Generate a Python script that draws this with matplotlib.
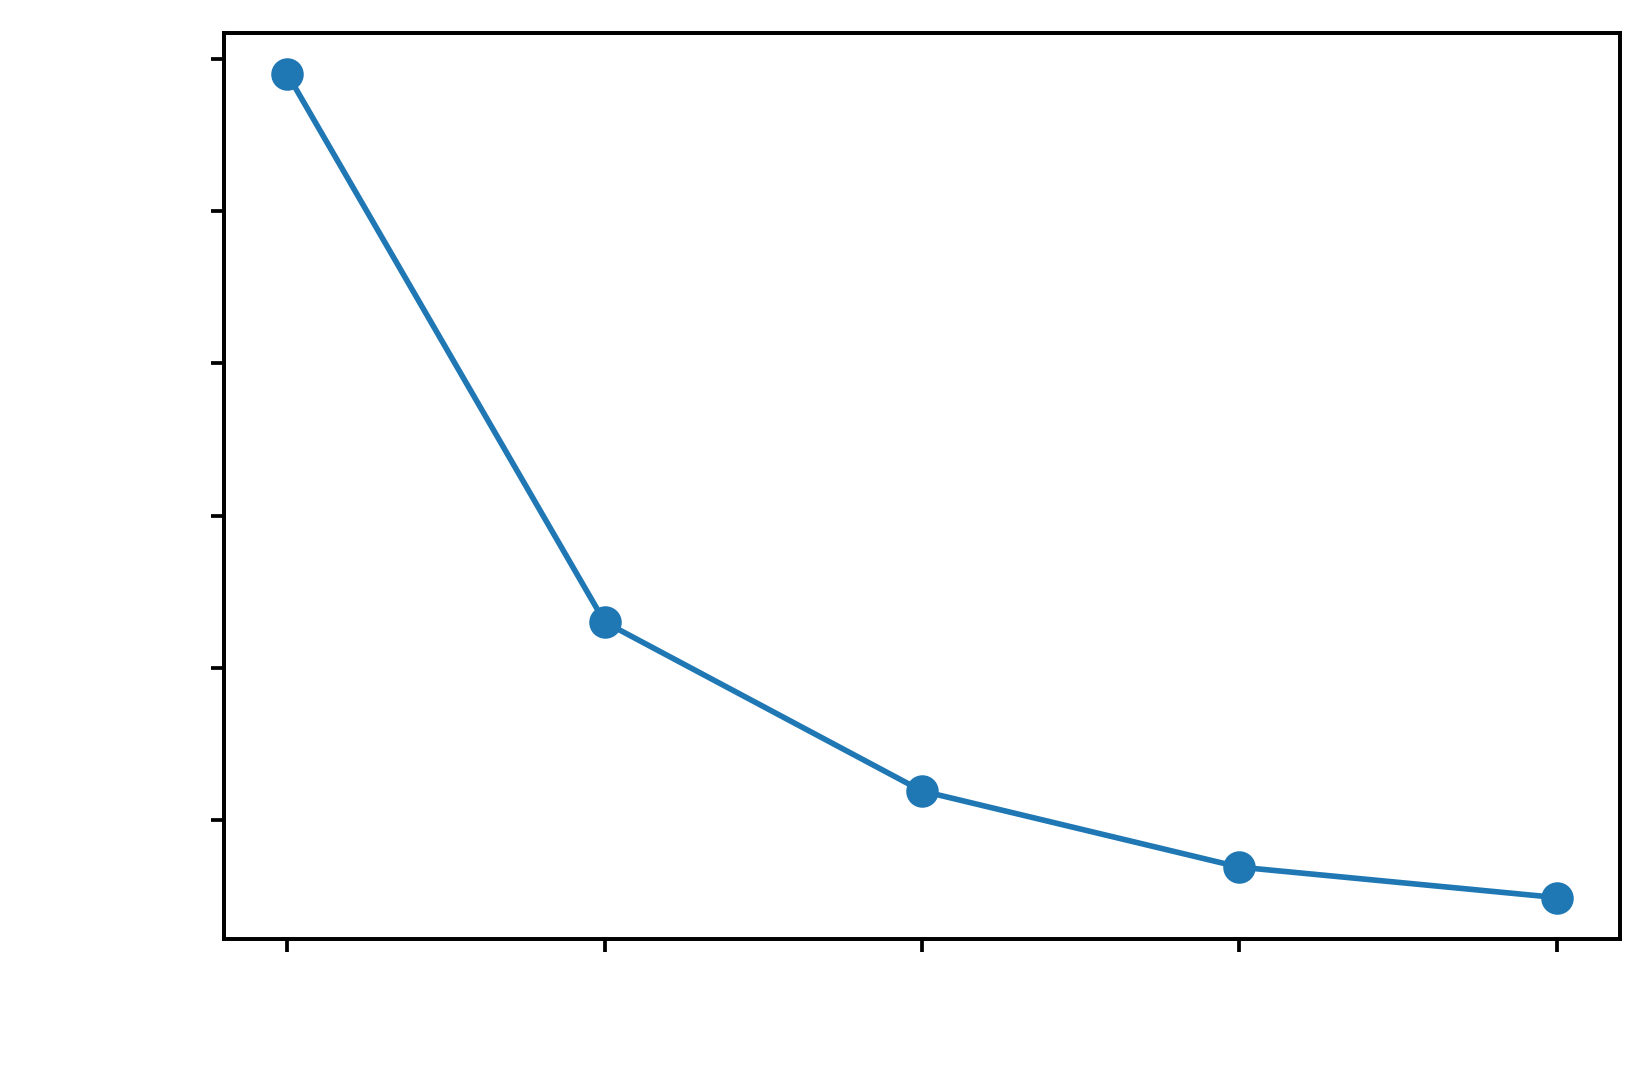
import matplotlib
matplotlib.use("Agg")
import matplotlib.pyplot as plt

x_positions = [0, 1, 2, 3, 4]
y_values = [5.90, 2.30, 1.19, 0.69, 0.49]
y_ticks = [1, 2, 3, 4, 5, 6]

fig = plt.figure(figsize=(5.49, 3.63), dpi=300)
ax = fig.add_axes([0.136, 0.138, 0.8476, 0.8317])
ax.plot(x_positions, y_values, color="#1f77b4", linewidth=1.35, marker="o", markersize=6.8)
ax.set_xticks(x_positions)
ax.set_yticks(y_ticks)
ax.set_xticklabels([])
ax.set_yticklabels([])
ax.tick_params(length=3.2, width=0.9)
for s in ax.spines.values():
    s.set_linewidth(0.95)
fig.savefig("out.png", dpi=300)
